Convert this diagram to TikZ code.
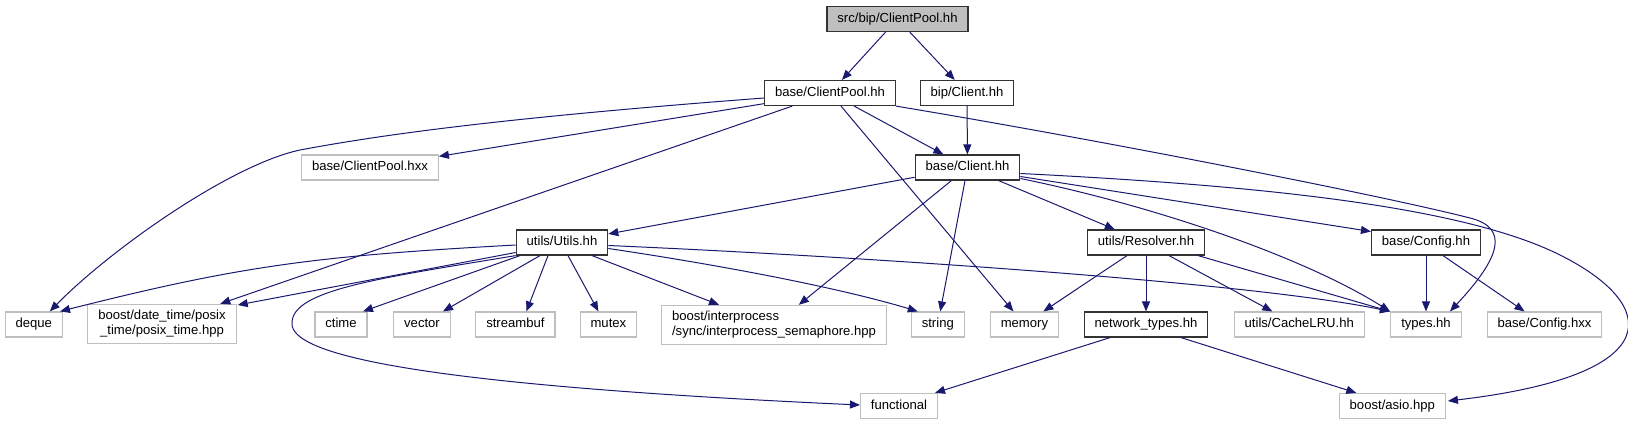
\documentclass[tikz,border=0pt]{standalone}
\usepackage{fontspec}
\setmainfont{Liberation Sans}
\usetikzlibrary{positioning,arrows.meta,calc}
\definecolor{azulnoche}{HTML}{191970}
\definecolor{grisclaro}{HTML}{BFBFBF}

\begin{document}
\begin{tikzpicture}[
    x=1pt, y=-1pt,
    caja/.style={rectangle, line width=1.2pt, minimum height=25pt, inner xsep=10.4pt, inner ysep=6pt, font=\fontsize{13.1}{15}\selectfont},
    hdr/.style={caja, draw=black!80, text height=9.5pt, text depth=2.8pt},
    exthdr/.style={caja, draw=grisclaro, text height=9.5pt, text depth=2.8pt},
    roothdr/.style={hdr, fill=grisclaro},
    inc/.style={-{Triangle[length=10pt, width=8pt]}, draw=azulnoche, line width=1pt}
]
\useasboundingbox (0,0) rectangle (1628,425);

% --- Fila 0 y 1: archivo raiz y sus includes directos ---
\node[roothdr] (src) at (897.5,19) {src/bip/ClientPool.hh};
\node[hdr] (bcp) at (830,93) {base/ClientPool.hh};
\node[hdr] (bipc) at (967,93) {bip/Client.hh};

% --- Fila 2 ---
\node[exthdr] (cphxx) at (370,167.5) {base/ClientPool.hxx};
\node[hdr] (bcl) at (967.5,167.5) {base/Client.hh};

% --- Fila 3 ---
\node[hdr] (utils) at (562,242.5) {utils/Utils.hh};
\node[hdr] (resolver) at (1146,242.5) {utils/Resolver.hh};
\node[hdr] (config) at (1426,242.5) {base/Config.hh};

% --- Fila 4: cabeceras del sistema y de terceros ---
\node[exthdr] (deque) at (33.8,324.5) {deque};
\node[caja, draw=grisclaro, align=center] (posix) at (162,324) {boost/date\_time/posix\\\_time/posix\_time.hpp};
\node[exthdr] (ctime) at (341,324.5) {ctime};
\node[exthdr] (vector) at (422,324.5) {vector};
\node[exthdr] (streambuf) at (515.4,324.5) {streambuf};
\node[exthdr] (mutex) at (608.4,324.5) {mutex};
\node[caja, draw=grisclaro, align=left] (sema) at (774,325) {boost/interprocess\\/sync/interprocess\_semaphore.hpp};
\node[exthdr] (string) at (937.8,324.5) {string};
\node[exthdr] (memory) at (1024.4,324.5) {memory};
\node[hdr] (nettypes) at (1146,324.5) {network\_types.hh};
\node[exthdr] (cachelru) at (1299.3,324.5) {utils/CacheLRU.hh};
\node[exthdr] (types) at (1426,324.5) {types.hh};
\node[exthdr] (cfghxx) at (1544.5,324.5) {base/Config.hxx};

% --- Fila 5 ---
\node[exthdr] (functional) at (899,406) {functional};
\node[exthdr] (asio) at (1392.3,406) {boost/asio.hpp};

% --- Conexiones: raiz ---
\draw[inc] (src) -- (bcp);
\draw[inc] (src) -- (bipc);

% --- Conexiones: base/ClientPool.hh ---
\draw[inc] (bcp) -- (bcl);
\draw[inc] (bcp) -- (cphxx);
\draw[inc] ($(bcp.west)+(0,5)$) .. controls (500,118) and (380,135) .. (300,150)
    .. controls (230,165) and (110,250) .. ($(deque.north)+(16,0)$);
\draw[inc] (bcp) -- (posix);
\draw[inc] (bcp) -- (memory);
\draw[inc] (bcp.south east) .. controls (1100,140) and (1380,195) .. (1470,218)
    .. controls (1510,228) and (1500,258) .. ($(types.north)+(24,0)$);

% --- Conexiones: bip/Client.hh ---
\draw[inc] (bipc) -- (bcl);

% --- Conexiones: base/Client.hh ---
\draw[inc] (bcl) -- (utils);
\draw[inc] (bcl) -- (sema);
\draw[inc] (bcl) -- (string);
\draw[inc] (bcl) -- (resolver);
\draw[inc] ($(bcl.east)+(0,11)$) .. controls (1150,205) and (1300,255) .. ($(types.north)+(-36,0)$);
\draw[inc] ($(bcl.east)+(0,9)$) -- ($(config.west)+(0,-11)$);
\draw[inc] ($(bcl.east)+(0,6)$) .. controls (1250,185) and (1460,205) .. (1560,255)
    .. controls (1660,305) and (1670,375) .. ($(asio.east)+(2,-5)$);

% --- Conexiones: utils/Utils.hh ---
\draw[inc] ($(utils.west)+(0,2.5)$) .. controls (314,256) and (240,266) .. ($(deque.north east)+(-3,0)$);
\draw[inc] ($(utils.west)+(0,10)$) -- ($(posix.east)+(1,-19)$);
\draw[inc] (utils.south west) .. controls (380,278) and (292,290) .. (292,323)
    .. controls (290,355) and (420,385) .. ($(functional.west)+(0,-1)$);
\draw[inc] ($(utils.south)+(-42,0)$) -- ($(ctime.north)+(22,0)$);
\draw[inc] ($(utils.south)+(-22,0)$) -- ($(vector.north)+(21,0)$);
\draw[inc] ($(utils.south)+(-14,0)$) -- ($(streambuf.north)+(11,0)$);
\draw[inc] ($(utils.south)+(6,0)$) -- ($(mutex.north)+(-10,0)$);
\draw[inc] ($(utils.south)+(30,0)$) -- ($(sema.north)+(-55,0)$);
\draw[inc] ($(utils.east)+(0,6)$) .. controls (700,262) and (830,285) .. ($(string.north)+(-20,0)$);
\draw[inc] ($(utils.east)+(0,3)$) .. controls (850,256) and (1250,282) .. ($(types.north)+(-36,0)$);

% --- Conexiones: utils/Resolver.hh ---
\draw[inc] ($(resolver.south)+(-19,0)$) -- ($(memory.north)+(19,0)$);
\draw[inc] (resolver) -- (nettypes);
\draw[inc] ($(resolver.south)+(23,0)$) -- ($(cachelru.north)+(-27,0)$);
\draw[inc] ($(resolver.south east)+(-7,0)$) -- ($(types.north)+(-36,0)$);

% --- Conexiones: base/Config.hh ---
\draw[inc] (config) -- (types);
\draw[inc] ($(config.south)+(17,0)$) -- ($(cfghxx.north)+(-20,0)$);

% --- Conexiones: network_types.hh ---
\draw[inc] ($(nettypes.south)+(-36,0)$) -- ($(functional.north)+(36,0)$);
\draw[inc] ($(nettypes.south)+(35,0)$) -- ($(asio.north)+(-36,0)$);

\end{tikzpicture}
\end{document}
